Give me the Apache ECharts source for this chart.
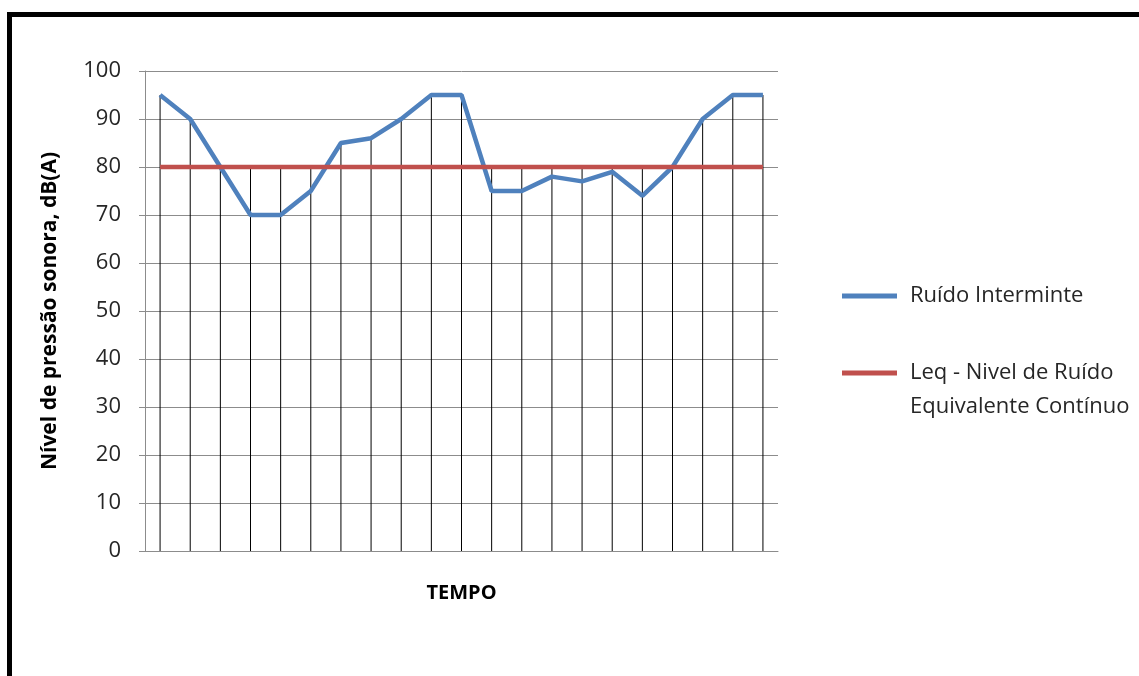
<!DOCTYPE html>
<html><head><meta charset="utf-8">
<script src="https://cdn.jsdelivr.net/npm/echarts@6/dist/echarts.min.js"></script>
<style>html,body{margin:0;padding:0;background:#fff}#c{width:1139px;height:676px}</style>
</head><body><div id="c"></div>
<script>
const categories = ['1','2','3','4','5','6','7','8','9','10','11','12','13','14','15','16','17','18','19','20','21'];
const ruido = [95,90,80,70,70,75,85,86,90,95,95,75,75,78,77,79,74,80,90,95,95];
const leq = [80,80,80,80,80,80,80,80,80,80,80,80,80,80,80,80,80,80,80,80,80];
const seriesNames = ['Ruído Interminte', 'Leq - Nivel de Ruído\nEquivalente Contínuo'];
const yName = 'Nível de pressão sonora, dB(A)';
const xName = 'TEMPO';
const dropLines = ruido.map((v, i) => Math.max(v, leq[i]));

const FONT = 'Open Sans';
const chart = echarts.init(document.getElementById('c'), null, {renderer: 'canvas'});
chart.setOption({
  animation: false,
  backgroundColor: '#fff',
  textStyle: {fontFamily: FONT},
  graphic: [{
    type: 'rect', left: 7, top: 12, silent: true,
    shape: {x: 0, y: 0, width: 1300, height: 900},
    style: {fill: 'none', stroke: '#000', lineWidth: 5}
  }],
  grid: {left: 145, right: 361, top: 71, height: 480},
  legend: {
    orient: 'vertical', left: 837, top: 274, itemGap: 9,
    itemWidth: 55, itemHeight: 5, icon: 'rect',
    data: seriesNames,
    formatter: function (n) { return n === seriesNames[1] ? '\n' + n : n; },
    textStyle: {fontFamily: FONT, fontSize: 22, color: '#262626', lineHeight: 34, padding: [0, 0, 0, 8]}
  },
  xAxis: {
    type: 'category', data: categories, boundaryGap: true,
    name: xName, nameLocation: 'middle', nameGap: 32,
    nameTextStyle: {fontFamily: FONT, fontWeight: 'bold', fontSize: 20, color: '#000'},
    axisLine: {lineStyle: {color: '#8c8c8c', width: 1}},
    axisTick: {show: false},
    axisLabel: {show: false}
  },
  yAxis: {
    type: 'value', min: 0, max: 100, interval: 10,
    name: yName, nameLocation: 'middle', nameGap: 84, nameRotate: 90,
    nameTextStyle: {fontFamily: FONT, fontWeight: 'bold', fontSize: 21, color: '#000'},
    axisLine: {show: true, lineStyle: {color: '#8c8c8c', width: 1}},
    axisTick: {show: true, length: 6, lineStyle: {color: '#8c8c8c'}},
    axisLabel: {fontFamily: FONT, fontSize: 22, color: '#262626', margin: 24},
    splitLine: {lineStyle: {color: '#8c8c8c', width: 1}}
  },
  series: [
    {
      name: 'drop', type: 'bar', data: dropLines, barWidth: 1, silent: true,
      itemStyle: {color: '#000'}, z: 1, legendHoverLink: false
    },
    {
      name: seriesNames[0], type: 'line', data: ruido, symbol: 'none',
      lineStyle: {color: '#4F81BD', width: 4.5}, itemStyle: {color: '#4F81BD'}, z: 3
    },
    {
      name: seriesNames[1], type: 'line', data: leq, symbol: 'none',
      lineStyle: {color: '#C0504D', width: 4.5}, itemStyle: {color: '#C0504D'}, z: 4
    }
  ]
});
</script></body></html>
